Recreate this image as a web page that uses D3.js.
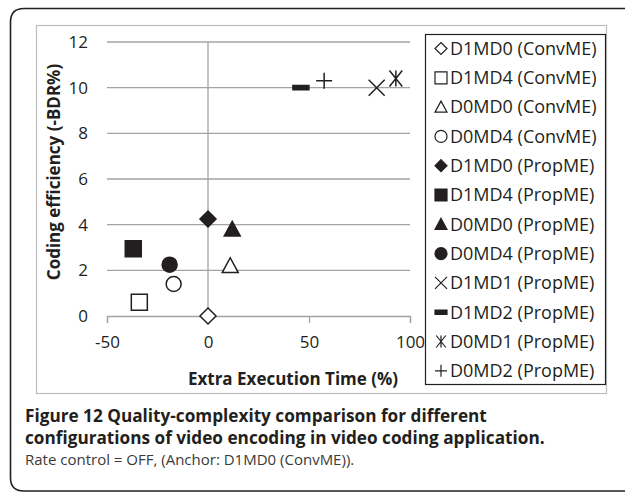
<!DOCTYPE html>
<html>
<head>
<meta charset="utf-8">
<script src="https://cdn.jsdelivr.net/npm/d3@7"></script>
<style>
  body { margin: 0; background: #fff; }
  svg { display: block; }
</style>
</head>
<body>
<svg id="chart" width="625" height="492"></svg>
<script>
(() => {
  // series in legend order
  const seriesNames = [
    "D1MD0 (ConvME)", "D1MD4 (ConvME)", "D0MD0 (ConvME)", "D0MD4 (ConvME)",
    "D1MD0 (PropME)", "D1MD4 (PropME)", "D0MD0 (PropME)", "D0MD4 (PropME)",
    "D1MD1 (PropME)", "D1MD2 (PropME)", "D0MD1 (PropME)", "D0MD2 (PropME)",
  ];
  const extraTime = [0, -34, 11, -17, 0, -37, 12, -19, 83.5, 46, 93, 57.5];
  const codingEff = [0, 0.6, 2.2, 1.4, 4.25, 2.95, 3.8, 2.25, 10.0, 10.0, 10.4, 10.3];
  const markerShapes = [
    "diamond", "square", "triangle", "circle",
    "diamondFill", "squareFill", "triangleFill", "circleFill",
    "cross", "dash", "star", "plus",
  ];
  const xTicks = [-50, 0, 50, 100];
  const yTicks = [0, 2, 4, 6, 8, 10, 12];

  const captionBold = [
    "Figure 12 Quality-complexity comparison for different",
    "configurations of video encoding in video coding application.",
  ];
  const captionNote = "Rate control = OFF, (Anchor: D1MD0 (ConvME)).";

  const INK = "#231f20";
  const GRID = "#a3a3a3";
  const FONT = "'Open Sans', sans-serif";

  const svg = d3.select("#chart");

  // outer figure frame (open to the right)
  svg.append("path")
    .attr("d", "M640,8.5 H24 Q10.5,8.5 10.5,22 V478 Q10.5,491 24,491 H640")
    .attr("fill", "none")
    .attr("stroke", INK)
    .attr("stroke-width", 1.6);

  // chart area frame
  svg.append("rect")
    .attr("x", 36.5).attr("y", 25.5)
    .attr("width", 570).attr("height", 368)
    .attr("fill", "#fff")
    .attr("stroke", "#bdbdbd")
    .attr("stroke-width", 1.2);

  const x = d3.scaleLinear().domain([-50, 100]).range([107, 410]);
  const y = d3.scaleLinear().domain([0, 12]).range([316, 42]);

  // gridlines
  svg.append("g")
    .selectAll("line")
    .data(yTicks.filter((t) => t > 0))
    .join("line")
    .attr("x1", x(-50)).attr("x2", x(100))
    .attr("y1", (d) => y(d)).attr("y2", (d) => y(d))
    .attr("stroke", GRID)
    .attr("stroke-width", 1.3);

  // vertical axis at x = 0
  svg.append("line")
    .attr("x1", x(0)).attr("x2", x(0))
    .attr("y1", y(0)).attr("y2", y(12))
    .attr("stroke", GRID)
    .attr("stroke-width", 1.3);

  // x axis at y = 0
  const xAxis = svg.append("g")
    .attr("transform", `translate(0,${y(0)})`)
    .call(d3.axisBottom(x).tickValues(xTicks).tickSize(7).tickFormat((d) => String(d)));
  xAxis.select(".domain").attr("stroke", GRID).attr("stroke-width", 1.3);
  xAxis.selectAll(".tick line").attr("stroke", GRID).attr("stroke-width", 1.3);
  xAxis.selectAll(".tick text")
    .attr("y", 20)
    .attr("fill", INK)
    .style("font-family", FONT)
    .style("font-size", "17px");

  // y tick labels
  const yAxis = svg.append("g")
    .attr("transform", `translate(${x(-50)},0)`)
    .call(d3.axisLeft(y).tickValues(yTicks).tickSize(0).tickPadding(19));
  yAxis.select(".domain").remove();
  yAxis.selectAll(".tick text")
    .attr("fill", INK)
    .style("font-family", FONT)
    .style("font-size", "17px");

  // axis titles
  svg.append("text")
    .attr("x", 293).attr("y", 385)
    .attr("text-anchor", "middle")
    .attr("fill", INK)
    .style("font-family", FONT)
    .style("font-size", "17px")
    .style("font-weight", "bold")
    .text("Extra Execution Time (%)");

  svg.append("text")
    .attr("transform", "translate(60,172) rotate(-90)")
    .attr("text-anchor", "middle")
    .attr("fill", INK)
    .style("font-family", FONT)
    .style("font-size", "17px")
    .style("font-weight", "bold")
    .text("Coding efficiency (-BDR%)");

  // marker path builder, s = nominal size in px
  function markerPath(shape, s) {
    const h = s / 2;
    const p = d3.path();
    switch (shape.replace("Fill", "")) {
      case "diamond":
        p.moveTo(0, -h); p.lineTo(h, 0); p.lineTo(0, h); p.lineTo(-h, 0); p.closePath();
        break;
      case "square":
        p.rect(-h, -h, s, s);
        break;
      case "triangle":
        p.moveTo(0, -h); p.lineTo(h, h * 0.85); p.lineTo(-h, h * 0.85); p.closePath();
        break;
      case "circle":
        p.arc(0, 0, h, 0, 2 * Math.PI);
        break;
      case "cross":
        p.moveTo(-h, -h); p.lineTo(h, h); p.moveTo(h, -h); p.lineTo(-h, h);
        break;
      case "dash":
        p.rect(-h, -2.2, s, 4.4);
        break;
      case "star":
        p.moveTo(-h * 0.8, -h); p.lineTo(h * 0.8, h); p.moveTo(h * 0.8, -h); p.lineTo(-h * 0.8, h);
        p.moveTo(0, -h); p.lineTo(0, h);
        break;
      case "plus":
        p.moveTo(-h, 0); p.lineTo(h, 0); p.moveTo(0, -h); p.lineTo(0, h);
        break;
      default:
        break;
    }
    return p.toString();
  }

  function markerFill(shape) {
    if (shape.endsWith("Fill") || shape === "dash") return INK;
    if (shape === "cross" || shape === "star" || shape === "plus") return "none";
    return "#fff";
  }

  const points = seriesNames.map((name, i) => ({
    name, x: extraTime[i], y: codingEff[i], shape: markerShapes[i],
  }));

  svg.append("g")
    .selectAll("path")
    .data(points)
    .join("path")
    .attr("transform", (d) => `translate(${x(d.x)},${y(d.y)})`)
    .attr("d", (d) => markerPath(d.shape, d.shape.startsWith("circle") ? 15 : 16))
    .attr("fill", (d) => markerFill(d.shape))
    .attr("stroke", INK)
    .attr("stroke-width", 1.5)
    .attr("stroke-linejoin", "miter");

  // legend
  const legend = svg.append("g");
  legend.append("rect")
    .attr("x", 425.5).attr("y", 34.5)
    .attr("width", 180).attr("height", 350)
    .attr("fill", "#fff")
    .attr("stroke", INK)
    .attr("stroke-width", 1.2);

  const rows = legend.selectAll("g.row")
    .data(points)
    .join("g")
    .attr("class", "row")
    .attr("transform", (d, i) => `translate(0,${48.5 + i * 29.3})`);

  rows.append("path")
    .attr("transform", "translate(441,0)")
    .attr("d", (d) => markerPath(d.shape, 12))
    .attr("fill", (d) => markerFill(d.shape))
    .attr("stroke", INK)
    .attr("stroke-width", 1.2);

  rows.append("text")
    .attr("x", 450)
    .attr("dy", "0.35em")
    .attr("fill", INK)
    .style("font-family", FONT)
    .style("font-size", "18px")
    .text((d) => d.name);

  // caption
  const caption = svg.append("g").style("font-family", FONT).attr("fill", INK);
  caption.selectAll("text.bold")
    .data(captionBold)
    .join("text")
    .attr("class", "bold")
    .attr("x", 25)
    .attr("y", (d, i) => 422 + i * 21.5)
    .style("font-size", "17.2px")
    .style("font-weight", "bold")
    .text((d) => d);
  caption.append("text")
    .attr("x", 25).attr("y", 465)
    .style("font-size", "15px")
    .attr("fill", "#3a3a3a")
    .text(captionNote);
})();
</script>
</body>
</html>
